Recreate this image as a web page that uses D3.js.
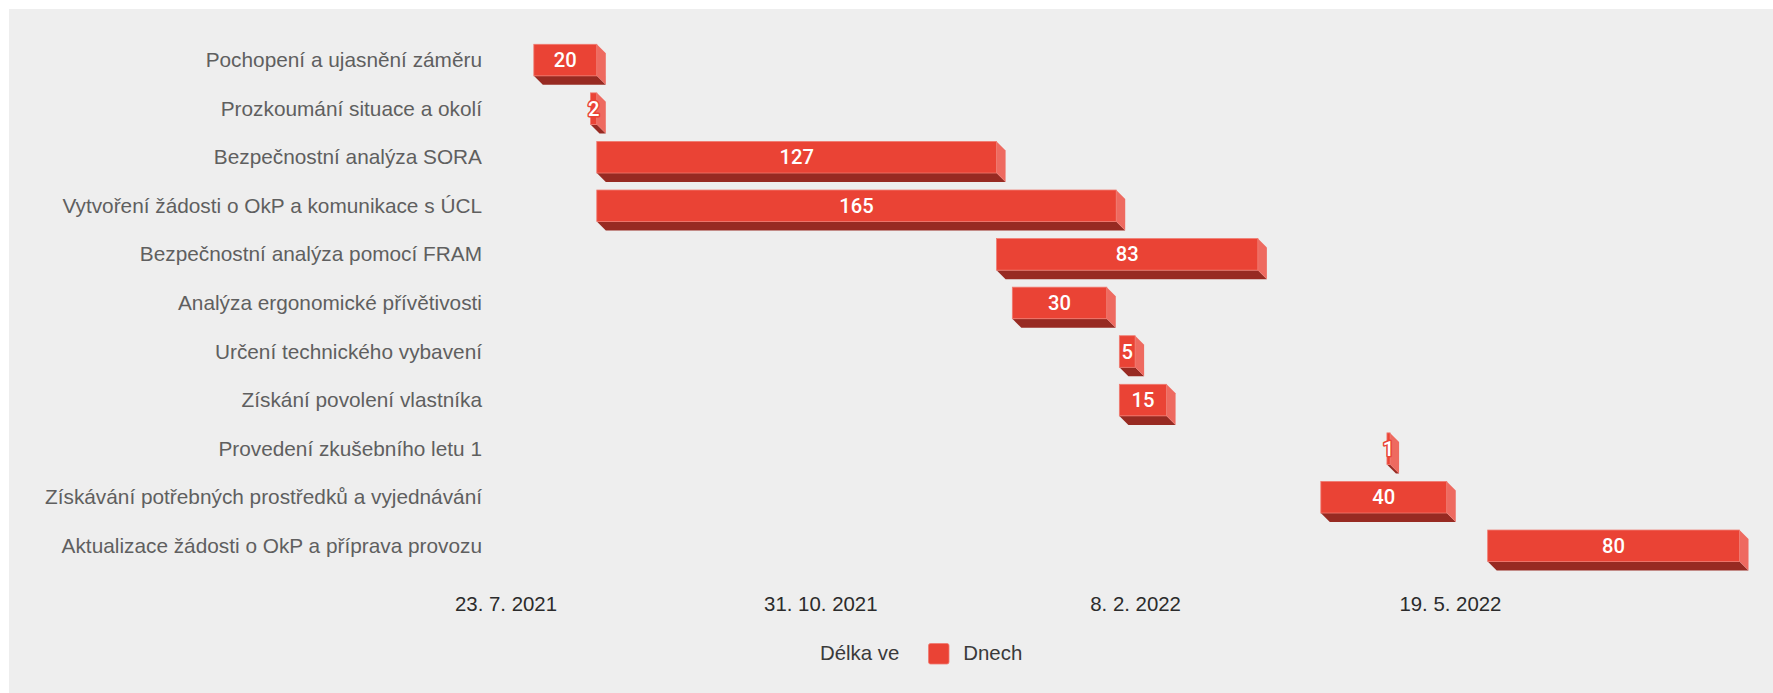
<!DOCTYPE html>
<html>
<head>
<meta charset="utf-8">
<script src="https://cdn.jsdelivr.net/npm/d3@7"></script>
<style>
  html, body { margin: 0; padding: 0; background: #ffffff; }
  svg { display: block; }
</style>
</head>
<body>
<svg id="chart" width="1773" height="693"></svg>
<script>
// ---- data ----
const tasks = [
  "Pochopení a ujasnění záměru",
  "Prozkoumání situace a okolí",
  "Bezpečnostní analýza SORA",
  "Vytvoření žádosti o OkP a komunikace s ÚCL",
  "Bezpečnostní analýza pomocí FRAM",
  "Analýza ergonomické přívětivosti",
  "Určení technického vybavení",
  "Získání povolení vlastníka",
  "Provedení zkušebního letu 1",
  "Získávání potřebných prostředků a vyjednávání",
  "Aktualizace žádosti o OkP a příprava provozu"
];
const startDates = [
  "2021-08-01", "2021-08-19", "2021-08-21", "2021-08-21", "2021-12-26",
  "2021-12-31", "2022-02-03", "2022-02-03", "2022-04-29", "2022-04-08", "2022-05-31"
];
const durations = [20, 2, 127, 165, 83, 30, 5, 15, 1, 40, 80];
const tickDates = ["2021-07-23", "2021-10-31", "2022-02-08", "2022-05-19"];
const legendTitle = "Délka ve";
const seriesName = "Dnech";

// ---- setup ----
const parse = d3.utcParse("%Y-%m-%d");
const svg = d3.select("#chart");
const W = 1773, H = 693;

svg.append("rect").attr("x", 9).attr("y", 9).attr("width", W - 9).attr("height", H - 9)
  .attr("fill", "#eeeeee");

const x = d3.scaleUtc()
  .domain([parse(tickDates[0]), parse(tickDates[tickDates.length - 1])])
  .range([505.5, 1449.9]);

const y = d3.scaleBand()
  .domain(tasks)
  .range([27.3, 578.6])
  .paddingInner(0.35)
  .paddingOuter(0.35);

const data = tasks.map((t, i) => {
  const s = parse(startDates[i]);
  return { task: t, start: s, end: d3.utcDay.offset(s, durations[i]), dur: durations[i] };
});

const FRONT = "#ea4335", SIDE = "#ee6a60", BOTTOM = "#972a22";
const D = 9;

// row labels
svg.append("g").selectAll("text").data(tasks).join("text")
  .attr("x", 482)
  .attr("y", d => y(d) + y.bandwidth() / 2 + 7)
  .attr("text-anchor", "end")
  .attr("font-family", "'Liberation Sans', Arial, sans-serif")
  .attr("font-size", 20.8)
  .attr("fill", "#5f5f5f")
  .text(d => d);

// bars
const bars = svg.append("g").selectAll("g").data(data).join("g");
bars.append("path")
  .attr("fill", BOTTOM)
  .attr("d", d => {
    const x0 = x(d.start), x1 = x(d.end), y1 = y(d.task) + y.bandwidth();
    return `M${x0},${y1}L${x1},${y1}L${x1 + D},${y1 + D}L${x0 + D},${y1 + D}Z`;
  });
bars.append("path")
  .attr("fill", SIDE)
  .attr("d", d => {
    const x1 = x(d.end), y0 = y(d.task), y1 = y0 + y.bandwidth();
    return `M${x1},${y0}L${x1 + D},${y0 + D}L${x1 + D},${y1 + D}L${x1},${y1}Z`;
  });
bars.append("rect")
  .attr("x", d => x(d.start))
  .attr("y", d => y(d.task))
  .attr("width", d => x(d.end) - x(d.start))
  .attr("height", y.bandwidth())
  .attr("fill", FRONT)
  .attr("stroke", "#f07a70")
  .attr("stroke-width", 0.8);

// value labels
bars.append("text")
  .attr("x", d => (x(d.start) + x(d.end)) / 2)
  .attr("y", d => y(d.task) + y.bandwidth() / 2 + 7)
  .attr("text-anchor", "middle")
  .attr("font-family", "Roboto, sans-serif")
  .attr("font-size", 20.2)
  .attr("font-weight", 500)
  .attr("fill", "#ffffff")
  .attr("stroke", FRONT)
  .attr("stroke-width", 3)
  .attr("paint-order", "stroke")
  .attr("stroke-linejoin", "round")
  .text(d => d.dur);

// x axis
const fmt = d => `${d.getUTCDate()}. ${d.getUTCMonth() + 1}. ${d.getUTCFullYear()}`;
const axis = svg.append("g")
  .attr("transform", "translate(0,595)")
  .call(d3.axisBottom(x).tickValues(tickDates.map(parse)).tickFormat(fmt).tickSize(0).tickPadding(0));
axis.select(".domain").remove();
axis.selectAll("text")
  .attr("dy", 0)
  .attr("y", 15.7)
  .attr("font-family", "'Liberation Sans', Arial, sans-serif")
  .attr("font-size", 20.4)
  .attr("fill", "#2b2b2b");

// legend
const lg = svg.append("g");
lg.append("text").attr("x", 820).attr("y", 659.5)
  .attr("font-family", "'Liberation Sans', Arial, sans-serif")
  .attr("font-size", 20.4).attr("fill", "#3a3a3a").text(legendTitle);
lg.append("rect").attr("x", 928.5).attr("y", 643.5).attr("width", 20.5).attr("height", 20.5)
  .attr("rx", 2).attr("fill", FRONT).attr("stroke", "#f07a70").attr("stroke-width", 0.8);
lg.append("text").attr("x", 963.3).attr("y", 659.5)
  .attr("font-family", "'Liberation Sans', Arial, sans-serif")
  .attr("font-size", 20.4).attr("fill", "#3a3a3a").text(seriesName);
</script>
</body>
</html>
